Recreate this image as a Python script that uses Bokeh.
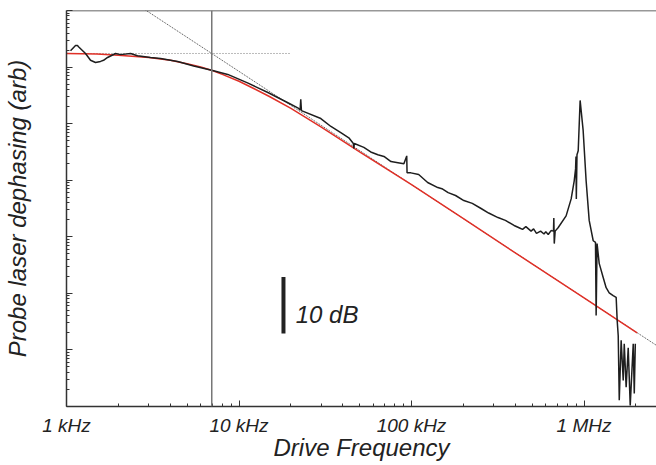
from bokeh.plotting import figure
from bokeh.models import FixedTicker, CustomJSTickFormatter, Span, Label, Range1d
from bokeh.embed import file_html
from bokeh.resources import INLINE

# ---- data (frequency in kHz, level in dB) ----
meas_khz = [1.055, 1.128, 1.158, 1.174, 1.289, 1.378, 1.473, 1.575, 1.640, 1.730, 1.924, 2.058, 2.352,
            2.58, 3.07, 3.51, 4.41, 5.46, 7.03, 8.60, 11.2, 14.7, 19.2, 21.9, 22.6, 22.8, 23.0,
            29.8, 34.1, 38.9, 43.3, 46.0, 46.3, 46.6, 52.9, 58.0, 63.8, 69.2, 76.0, 83.4, 90.3, 93.8, 94.2,
            99.2, 110, 124, 142, 150, 163, 180, 201, 225, 253, 280, 317, 350, 393, 420, 440, 460, 493, 510,
            530, 560, 586, 600, 620, 644, 665, 668, 672, 680, 707, 787, 842, 877, 893, 898, 902, 910, 925,
            949, 988, 1028, 1071, 1130, 1165, 1175, 1190, 1224, 1291, 1343, 1399, 1475, 1535, 1556, 1578,
            1600, 1641, 1687, 1710, 1754, 1803, 1852, 1928, 1955, 1982]
meas_db = [62.9, 63.8, 63.8, 63.6, 62.4, 61.2, 60.8, 61.0, 61.2, 61.7, 62.4, 62.2, 62.4,
           62.0, 61.7, 61.5, 61.0, 60.2, 59.4, 58.7, 57.2, 55.5, 53.7, 52.8, 52.4, 54.3, 52.3,
           50.9, 49.5, 48.4, 47.5, 46.5, 45.6, 46.5, 45.8, 45.0, 44.5, 44.2, 43.3, 43.1, 42.9, 44.3, 41.3,
           41.3, 41.0, 39.6, 38.7, 38.5, 37.8, 37.3, 36.4, 35.9, 35.0, 34.2, 33.4, 32.9, 32.0, 31.6, 31.3, 31.8,
           31.0, 31.4, 30.6, 31.0, 30.5, 30.9, 30.4, 31.1, 31.0, 33.3, 28.8, 31.0, 31.6, 33.7, 36.7, 39.9,
           42.0, 44.2, 36.7, 44.5, 45.2, 54.1, 48.8, 39.9, 32.9, 29.3, 29.0, 16.1, 28.8, 25.3, 22.8, 21.0,
           20.1, 19.6, 19.3, 15.2, 12.5, 1.1, 11.7, 4.6, 11.1, 3.4, 10.4, 0.2, 11.1, 2.3, 11.1]

fit_khz = [1, 1.5, 2, 3, 4, 5, 6, 7, 8, 10, 12, 15, 20, 30, 50, 100, 200, 500, 1000, 2030]
fit_db = [62.4, 62.3, 62.1, 61.7, 61.2, 60.6, 60.0, 59.4, 58.7, 57.5, 56.3, 54.8, 52.7, 49.4,
          45.0, 39.2, 33.2, 25.2, 19.2, 13.0]

corner_khz = 6.95          # corner frequency (vertical line)
plateau_db = 62.4          # low-frequency level (horizontal dotted line)
plateau_end_khz = 19.7
asym_khz = [2.8, 2630]     # -20 dB/decade asymptote
asym_db = [70.3, 10.8]

scale_khz = 18.1           # 10 dB scale bar
scale_db = [12.9, 22.9]

x_ticks_hz = [1e3, 1e4, 1e5, 1e6]
y_decades = list(range(0, 8))

def hz(v):
    return [k * 1000.0 for k in v]

def pw(v):
    return [10 ** (d / 10.0) for d in v]

FONT = "Liberation Sans"

p = figure(width=656, height=465, x_axis_type="log", y_axis_type="log",
           x_range=Range1d(1e3, 2.63e6), y_range=Range1d(1.0, 1e7),
           output_backend="svg", toolbar_location=None,
           min_border_left=66, min_border_right=0, min_border_top=10, min_border_bottom=59,
           x_axis_label="Drive Frequency", y_axis_label="Probe laser dephasing (arb)")
p.grid.visible = False
p.outline_line_color = None
p.background_fill_color = "white"

# axes styling
for ax in (p.xaxis[0], p.yaxis[0]):
    ax.axis_line_color = "#333333"
    ax.axis_line_width = 1.5
    ax.major_tick_line_color = "#333333"
    ax.minor_tick_line_color = "#333333"
    ax.major_tick_in = 6
    ax.major_tick_out = 0
    ax.minor_tick_in = 3
    ax.minor_tick_out = 0
    ax.axis_label_text_font = FONT
    ax.axis_label_text_font_style = "italic"
    ax.axis_label_text_font_size = "24px"
    ax.axis_label_text_color = "#222222"

minor_x = [m * 10 ** k for k in range(3, 7) for m in range(2, 10)]
p.xaxis.ticker = FixedTicker(ticks=x_ticks_hz, minor_ticks=minor_x)
p.xaxis.formatter = CustomJSTickFormatter(code="""
    if (tick >= 1e6) { return (tick/1e6).toFixed(0) + ' MHz'; }
    return (tick/1e3).toFixed(0) + ' kHz';
""")
p.xaxis.major_label_text_font = FONT
p.xaxis.major_label_text_font_style = "italic"
p.xaxis.major_label_text_font_size = "19px"
p.xaxis.major_label_text_color = "#222222"
p.xaxis.major_label_standoff = 8
p.xaxis.axis_label_standoff = -5

minor_y = [m * 10 ** k for k in range(0, 7) for m in range(2, 10)]
p.yaxis.ticker = FixedTicker(ticks=[10 ** k for k in y_decades], minor_ticks=minor_y)
p.yaxis.formatter = CustomJSTickFormatter(code="return ' ';")
p.yaxis.major_label_text_font_size = "1px"
p.yaxis.major_label_standoff = 0
p.yaxis.axis_label_standoff = 32

# top frame line
p.add_layout(Span(location=1e7, dimension="width", line_color="#333333", line_width=1.5))

# corner frequency vertical line
p.add_layout(Span(location=corner_khz * 1000, dimension="height", line_color="#777777", line_width=1.5))

# dotted guides
p.line(hz([1, plateau_end_khz]), pw([plateau_db, plateau_db]), line_color="#777777",
       line_width=1, line_dash="1 2")
p.line(hz(asym_khz), pw(asym_db), line_color="#444444", line_width=1, line_dash="1 1")

# fit
p.line(hz(fit_khz), pw(fit_db), line_color="#e03027", line_width=1.5)

# measurement
p.line(hz(meas_khz), pw(meas_db), line_color="#1e1e1e", line_width=1.5)

# scale bar
p.segment(x0=[scale_khz * 1000], y0=[10 ** (scale_db[0] / 10)], x1=[scale_khz * 1000],
          y1=[10 ** (scale_db[1] / 10)], line_color="#222222", line_width=4)
p.add_layout(Label(x=21.3e3, y=10 ** 1.63, text="10 dB", text_font=FONT, text_font_style="italic",
                   text_font_size="24px", text_color="#222222", text_baseline="alphabetic"))

open("out.html", "w").write(file_html(p, INLINE))
